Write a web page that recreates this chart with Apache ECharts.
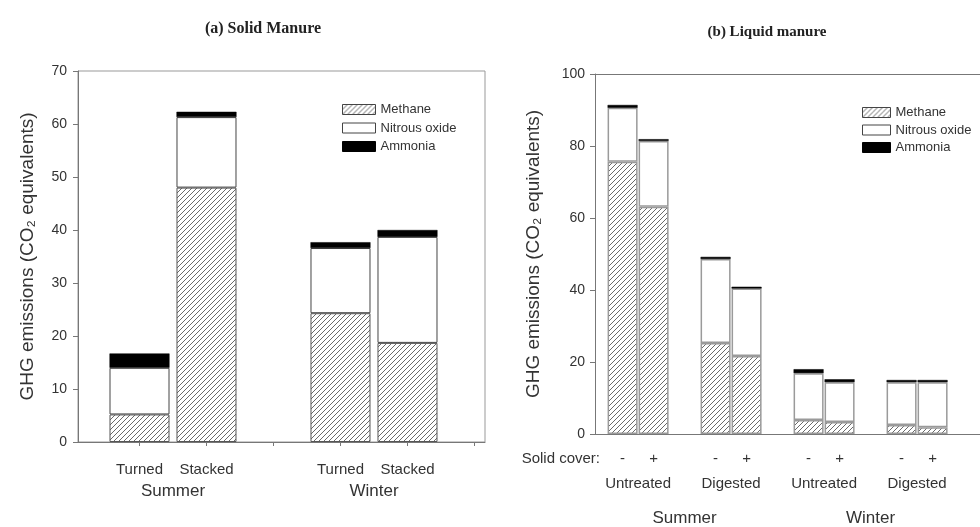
<!DOCTYPE html>
<html>
<head>
<meta charset="utf-8">
<script src="https://cdn.jsdelivr.net/npm/echarts@6/dist/echarts.min.js"></script>
<style>
  html, body { margin: 0; padding: 0; background: #fff; }
  #chart { width: 980px; height: 527px; }
</style>
</head>
<body>
<div id="chart"></div>
<script>
// ---- (a) Solid manure: GHG emissions, CO2 equivalents ----
const solidSeasons = ['Summer', 'Winter'];
const solidTreatments = ['Turned', 'Stacked'];
// order: Summer-Turned, Summer-Stacked, Winter-Turned, Winter-Stacked
const solidMethane = [5.2, 48.0, 24.3, 18.7];
const solidNitrous = [8.8, 13.3, 12.3, 20.0];
const solidAmmonia = [2.7, 1.0, 1.1, 1.3];
const solidYTicks = [0, 10, 20, 30, 40, 50, 60, 70];

// ---- (b) Liquid manure ----
const liquidSeasons = ['Summer', 'Winter'];
const liquidTreatments = ['Untreated', 'Digested'];
const liquidCover = ['-', '+'];
// order: Summer-Untreated(-,+), Summer-Digested(-,+), Winter-Untreated(-,+), Winter-Digested(-,+)
const liquidMethane = [75.6, 63.1, 25.3, 21.7, 3.9, 3.3, 2.5, 1.9];
const liquidNitrous = [15.0, 18.3, 23.3, 18.7, 13.0, 11.1, 11.9, 12.5];
const liquidAmmonia = [0.8, 0.5, 0.6, 0.5, 1.1, 0.8, 0.6, 0.6];
const liquidYTicks = [0, 20, 40, 60, 80, 100];

const gasNames = ['Methane', 'Nitrous oxide', 'Ammonia'];
const yTitle = 'GHG emissions (CO\u2082 equivalents)';

// x slots: each group of bars is followed by one empty slot
const solidX = [], solidLabelAt = {}, solidSeasonAt = {};
solidSeasons.forEach((s, si) => {
  solidTreatments.forEach((t, ti) => {
    const x = si * 3 + ti + 1;
    solidX.push(x);
    solidLabelAt[x] = t;
  });
  solidSeasonAt[si * 3 + 1.5] = s;
});

const liquidX = [], coverAt = {}, treatAt = {}, liquidSeasonAt = {};
liquidSeasons.forEach((s, si) => {
  liquidTreatments.forEach((t, ti) => {
    const g = si * liquidTreatments.length + ti;
    liquidCover.forEach((c, ci) => {
      const x = g * 3 + ci + 1;
      liquidX.push(x);
      coverAt[x] = c;
    });
    treatAt[g * 3 + 1.5] = t;
  });
  const g0 = si * liquidTreatments.length;
  const g1 = g0 + liquidTreatments.length - 1;
  liquidSeasonAt[((g0 * 3 + 1.5) + (g1 * 3 + 1.5)) / 2] = s;
});
const keysOf = o => Object.keys(o).map(Number);

// diagonal hatch fill for methane
function hatchTile(size, color) {
  const c = document.createElement('canvas');
  c.width = c.height = size;
  const ctx = c.getContext('2d');
  ctx.fillStyle = '#fff';
  ctx.fillRect(0, 0, size, size);
  ctx.strokeStyle = color;
  ctx.lineWidth = 1;
  ctx.beginPath();
  ctx.moveTo(0, size); ctx.lineTo(size, 0);
  ctx.moveTo(-1, 1); ctx.lineTo(1, -1);
  ctx.moveTo(size - 1, size + 1); ctx.lineTo(size + 1, size - 1);
  ctx.stroke();
  return c;
}
const hatch = { image: hatchTile(5, '#6a6a6a'), repeat: 'repeat' };

const FONT = '"Liberation Sans", Arial, sans-serif';
const axisGray = '#777';
const textGray = '#333';

const solidStyles = [
  { color: hatch, borderColor: '#555', borderWidth: 1 },
  { color: '#fff', borderColor: '#444', borderWidth: 1 },
  { color: '#000', borderColor: '#000', borderWidth: 0.5 }
];
const liquidStyles = [
  { color: hatch, borderColor: '#9a9a9a', borderWidth: 1.5 },
  { color: '#fff', borderColor: '#9a9a9a', borderWidth: 1.5 },
  { color: '#000', borderColor: '#000', borderWidth: 0.5 }
];

const solidData = [solidMethane, solidNitrous, solidAmmonia];
const liquidData = [liquidMethane, liquidNitrous, liquidAmmonia];

// value first so that the value dimension is the stacked one; position second
const series = [];
gasNames.forEach((name, k) => {
  series.push({
    name, type: 'bar', stack: 'solid', xAxisIndex: 0, yAxisIndex: 0,
    barWidth: 60, itemStyle: solidStyles[k], silent: true,
    encode: { x: 1, y: 0 },
    data: solidData[k].map((v, i) => [v, solidX[i]])
  });
});
gasNames.forEach((name, k) => {
  series.push({
    name, type: 'bar', stack: 'liquid', xAxisIndex: 2, yAxisIndex: 1,
    barWidth: 30, itemStyle: liquidStyles[k], silent: true,
    encode: { x: 1, y: 0 },
    data: liquidData[k].map((v, i) => [v, liquidX[i]])
  });
});

function labelAxis(gridIndex, min, max, at, margin, size) {
  return {
    type: 'value', gridIndex, min, max, position: 'bottom',
    axisLine: { show: false }, axisTick: { show: false }, splitLine: { show: false },
    axisLabel: {
      customValues: keysOf(at), margin, fontSize: size, fontFamily: FONT, color: textGray,
      formatter: v => at[v] || ''
    }
  };
}

const solidMin = 0.082, solidMax = 6.157;
const liquidMin = 0.11, liquidMax = 12.53;

const legendItems = styles => gasNames.map((n, k) => ({
  name: n, icon: 'rect',
  itemStyle: { color: styles[k].color, borderColor: k === 2 ? '#000' : '#444', borderWidth: 1 }
}));

const option = {
  backgroundColor: '#fff',
  animation: false,
  grid: [
    { left: 78, top: 71, width: 407, height: 371, show: true, borderColor: '#999', borderWidth: 1 },
    { left: 595, top: 74, right: 0, height: 360, show: false }
  ],
  legend: [
    {
      left: 342, top: 103, padding: 0, orient: 'vertical', itemWidth: 33, itemHeight: 10, itemGap: 5.5,
      selectedMode: false, textStyle: { fontSize: 13, fontFamily: FONT, color: textGray },
      data: legendItems(solidStyles)
    },
    {
      left: 862, top: 106, padding: 0, orient: 'vertical', itemWidth: 28, itemHeight: 10, itemGap: 4.5,
      selectedMode: false, textStyle: { fontSize: 13, fontFamily: FONT, color: textGray },
      data: legendItems(liquidStyles)
    }
  ],
  xAxis: [
    {
      type: 'value', gridIndex: 0, min: solidMin, max: solidMax, position: 'bottom',
      axisLine: { show: true, lineStyle: { color: axisGray, width: 1 } },
      axisTick: { show: true, length: 4, customValues: [1, 2, 3, 4, 5, 6], lineStyle: { color: axisGray } },
      splitLine: { show: false },
      axisLabel: {
        customValues: keysOf(solidLabelAt), margin: 20, fontSize: 15, fontFamily: FONT, color: textGray,
        formatter: v => solidLabelAt[v] || ''
      }
    },
    labelAxis(0, solidMin, solidMax, solidSeasonAt, 41, 17),
    {
      type: 'value', gridIndex: 1, min: liquidMin, max: liquidMax, position: 'bottom',
      axisLine: { show: true, lineStyle: { color: axisGray, width: 1 } },
      axisTick: { show: false }, splitLine: { show: false },
      axisLabel: {
        customValues: keysOf(coverAt), margin: 17, fontSize: 15, fontFamily: FONT, color: textGray,
        formatter: v => coverAt[v] || ''
      }
    },
    labelAxis(1, liquidMin, liquidMax, treatAt, 42, 15),
    labelAxis(1, liquidMin, liquidMax, liquidSeasonAt, 76, 17),
    {
      // top frame line of panel (b)
      type: 'value', gridIndex: 1, min: liquidMin, max: liquidMax, position: 'top',
      axisLine: { show: true, lineStyle: { color: axisGray, width: 1 } },
      axisTick: { show: false }, axisLabel: { show: false }, splitLine: { show: false }
    }
  ],
  yAxis: [
    {
      type: 'value', gridIndex: 0, min: solidYTicks[0], max: solidYTicks[solidYTicks.length - 1],
      interval: solidYTicks[1] - solidYTicks[0],
      axisLine: { show: true, lineStyle: { color: axisGray } },
      axisTick: { show: true, length: 5, lineStyle: { color: axisGray } },
      splitLine: { show: false },
      axisLabel: { fontSize: 14, fontFamily: FONT, color: textGray, margin: 11 },
      name: yTitle, nameLocation: 'middle', nameGap: 41,
      nameTextStyle: { fontSize: 19, fontFamily: FONT, color: textGray }
    },
    {
      type: 'value', gridIndex: 1, min: liquidYTicks[0], max: liquidYTicks[liquidYTicks.length - 1],
      interval: liquidYTicks[1] - liquidYTicks[0],
      axisLine: { show: true, lineStyle: { color: axisGray } },
      axisTick: { show: true, length: 5, lineStyle: { color: axisGray } },
      splitLine: { show: false },
      axisLabel: { fontSize: 14, fontFamily: FONT, color: textGray, margin: 10 },
      name: yTitle, nameLocation: 'middle', nameGap: 52,
      nameTextStyle: { fontSize: 19, fontFamily: FONT, color: textGray }
    }
  ],
  graphic: [
    {
      type: 'text', x: 263, y: 29, silent: true,
      style: { text: '(a) Solid Manure', font: 'bold 16px "Liberation Serif", "Times New Roman", serif',
               fill: '#222', textAlign: 'center', textVerticalAlign: 'middle', align: 'center', verticalAlign: 'middle' }
    },
    {
      type: 'text', x: 767, y: 32, silent: true,
      style: { text: '(b) Liquid manure', font: 'bold 15px "Liberation Serif", "Times New Roman", serif',
               fill: '#222', textAlign: 'center', textVerticalAlign: 'middle', align: 'center', verticalAlign: 'middle' }
    },
    {
      type: 'text', x: 600, y: 459, silent: true,
      style: { text: 'Solid cover:', font: '15px "Liberation Sans", Arial, sans-serif',
               fill: textGray, textAlign: 'right', textVerticalAlign: 'middle', align: 'right', verticalAlign: 'middle' }
    }
  ],
  series
};

const chart = echarts.init(document.getElementById('chart'), null, { renderer: 'canvas' });
chart.setOption(option);
</script>
</body>
</html>
